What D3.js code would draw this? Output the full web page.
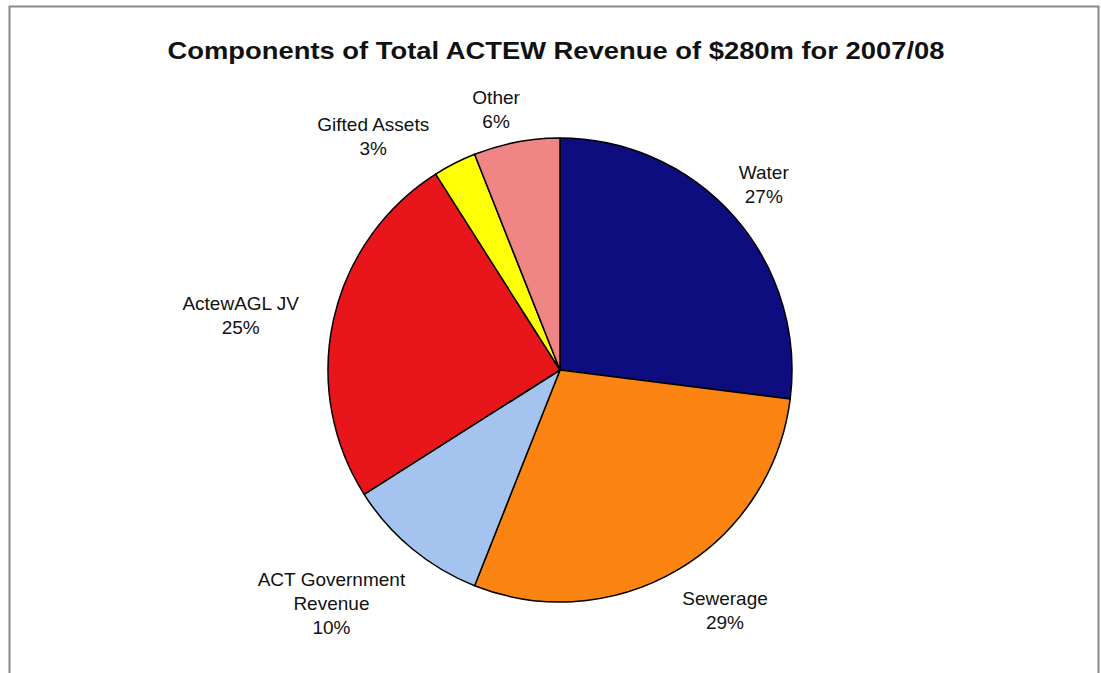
<!DOCTYPE html>
<html>
<head>
<meta charset="utf-8">
<script src="https://cdn.jsdelivr.net/npm/d3@7"></script>
<style>
    body { margin: 0; background: #fff; }
    text { font-family: Arial, 'Liberation Sans', sans-serif; fill: #111; }
</style>
</head>
<body>
<div class="viz"></div>
<script>
const title = 'Components of Total ACTEW Revenue of $280m for 2007/08';

const categories = ['Water', 'Sewerage', 'ACT Government Revenue', 'ActewAGL JV', 'Gifted Assets', 'Other'];
const shares = [27, 29, 10, 25, 3, 6];
const labelLines = [['Water'], ['Sewerage'], ['ACT Government', 'Revenue'], ['ActewAGL JV'], ['Gifted Assets'], ['Other']];

const palette = {
    'Water': '#0d0d7f',
    'Sewerage': '#fb8412',
    'ACT Government Revenue': '#a4c3ee',
    'ActewAGL JV': '#e8151b',
    'Gifted Assets': '#ffff05',
    'Other': '#f08585'
}

// nudges so the labels sit where the original chart had them
const labelNudge = {
    'Water': [-4, -2],
    'Sewerage': [24, 2],
    'ACT Government Revenue': [-52, 20],
    'ActewAGL JV': [-49, 6],
    'Gifted Assets': [-61, 13],
    'Other': [-12, 11]
}

const width = 1101;
const height = 673;
const cx = 560;
const cy = 370;
const radius = 232;

const svg = d3.select('.viz')
    .append('svg')
    .attr('width', width)
    .attr('height', height);

// frame
svg.append('rect')
    .attr('x', 9.5)
    .attr('y', 6.5)
    .attr('width', 1089)
    .attr('height', 720)
    .attr('fill', 'none')
    .attr('stroke', '#8a8a8a')
    .attr('stroke-width', 2);

svg.append('text')
    .attr('x', 556)
    .attr('y', 59)
    .attr('text-anchor', 'middle')
    .style('font-size', '24px')
    .style('font-weight', 700)
    .attr('textLength', 777)
    .attr('lengthAdjust', 'spacingAndGlyphs')
    .text(title);

const data = categories.map((c, i) => ({name: c, value: shares[i], lines: labelLines[i]}));

const pie = d3.pie()
    .sort(null)
    .value(d => d.value);

const arc = d3.arc()
    .innerRadius(0)
    .outerRadius(radius);

const labelArc = d3.arc()
    .innerRadius(277)
    .outerRadius(277);

const g = svg.append('g')
    .attr('transform', 'translate(' + cx + ',' + cy + ')');

const arcs = pie(data);

g.selectAll('.slice')
    .data(arcs)
    .enter()
    .append('path')
        .classed('slice', true)
        .attr('d', arc)
        .attr('fill', d => palette[d.data.name])
        .attr('stroke', '#000')
        .attr('stroke-width', 1.5)
        .attr('stroke-linejoin', 'round');

const lineHeight = 24;

let labels = g.selectAll('.label')
    .data(arcs)
    .enter()
    .append('text')
        .classed('label', true)
        .attr('text-anchor', 'middle')
        .style('font-size', '19px')
        .attr('transform', d => {
            const c = labelArc.centroid(d);
            const n = labelNudge[d.data.name];
            return 'translate(' + (c[0] + n[0]) + ',' + (c[1] + n[1]) + ')';
        });

labels.each(function(d) {
    const lines = d.data.lines.concat([d.data.value + '%']);
    const top = -(lines.length - 1) * lineHeight / 2;
    d3.select(this).selectAll('tspan')
        .data(lines)
        .enter()
        .append('tspan')
            .attr('x', 0)
            .attr('y', (l, i) => top + i * lineHeight)
            .attr('dy', '0.35em')
            .text(l => l);
});
</script>
</body>
</html>
